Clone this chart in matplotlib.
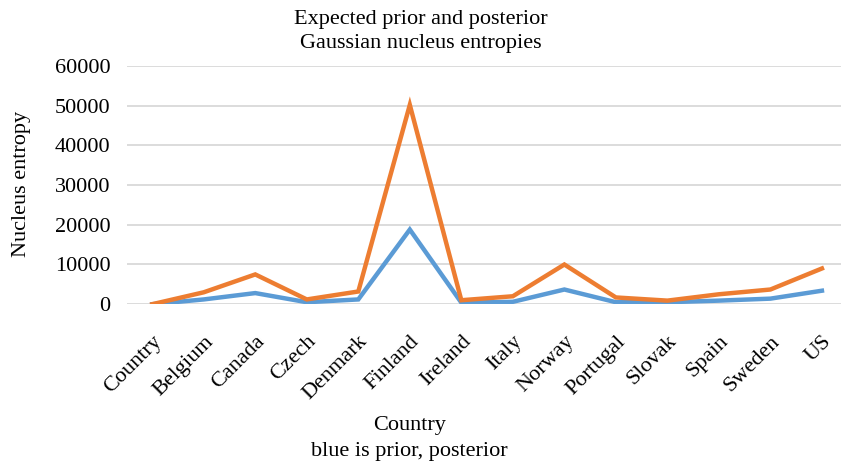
import matplotlib.pyplot as plt

countries = ['Country', 'Belgium', 'Canada', 'Czech', 'Denmark', 'Finland', 'Ireland',
             'Italy', 'Norway', 'Portugal', 'Slovak', 'Spain', 'Sweden', 'US']
prior = [0, 1200, 2800, 500, 1200, 18800, 400, 600, 3700, 500, 500, 900, 1400, 3400]
posterior = [0, 3000, 7500, 1200, 3200, 50200, 1000, 2000, 10000, 1700, 900, 2500, 3700, 9000]

plt.rcParams['font.family'] = ['Liberation Serif', 'DejaVu Serif']

fig = plt.figure(figsize=(8.41, 4.68), dpi=100)
ax = fig.add_axes([0.151, 0.35, 0.849, 0.509])

x = range(len(countries))
ax.plot(x, prior, color='#5B9BD5', linewidth=3.2, solid_joinstyle='miter', zorder=3)
ax.plot(x, posterior, color='#ED7D31', linewidth=3.2, solid_joinstyle='miter', zorder=3)

ax.set_xlim(-0.49, 13.37)
ax.set_ylim(0, 60000)
ax.set_yticks(range(0, 60001, 10000))
ax.set_xticks(list(x))
ax.set_xticklabels(countries, rotation=45, ha='right', va='top',
                   rotation_mode='anchor', fontsize=16)
ax.tick_params(axis='y', labelsize=16, length=0, pad=12)
ax.tick_params(axis='x', length=0, pad=20)
ax.grid(axis='y', color='#d9d9d9', linewidth=1.3, zorder=0)
for s in ax.spines.values():
    s.set_visible(False)

# titles and axis captions placed as figure text
fig.text(0.5, 0.933, 'Expected prior and posterior\nGaussian nucleus entropies',
         ha='center', va='center', fontsize=16, linespacing=1.35)
fig.text(0.026, 0.608, 'Nucleus entropy', rotation=90, ha='center', va='center', fontsize=16)
fig.text(0.487, 0.064, 'Country\nblue is prior, posterior', ha='center', va='center',
         fontsize=16, linespacing=1.5)

fig.savefig('out.png', dpi=100)
